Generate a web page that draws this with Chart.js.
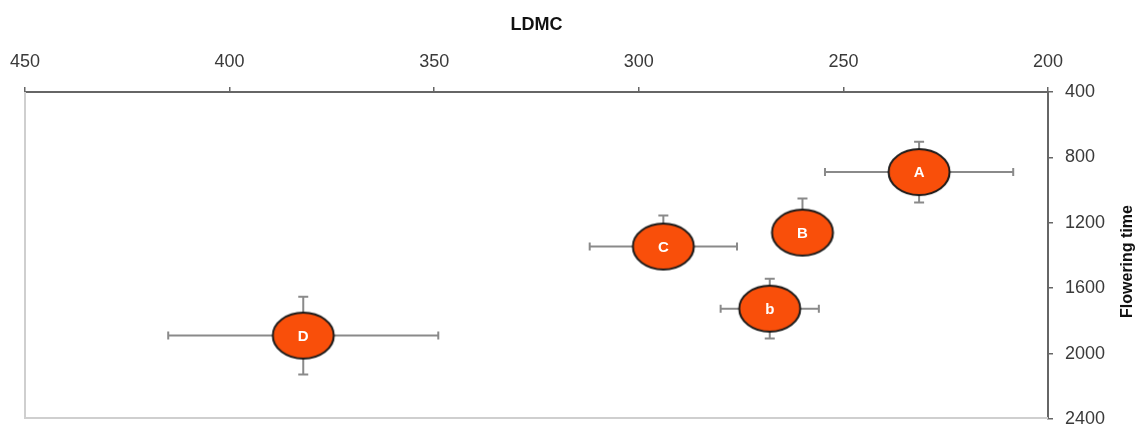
<!DOCTYPE html>
<html>
<head>
<meta charset="utf-8">
<script src="https://cdn.jsdelivr.net/npm/chart.js@4.4.1/dist/chart.umd.min.js"></script>
<style>
  html, body { margin: 0; padding: 0; background: #fff; }
</style>
</head>
<body>
<canvas id="Chart1" width="1138" height="425"></canvas>
<script>
// data
const groups = ['A', 'B', 'C', 'b', 'D'];
const ldmc = [231.5, 260, 294, 268, 382];
const ldmcErr = [23, 6, 18, 12, 33];
const flowering = [890, 1260, 1345, 1725, 1890];
const floweringErrUp = [186, 208, 190, 183, 238];
const floweringErrDown = [186, 100, 100, 183, 238];
const xTicks = [450, 400, 350, 300, 250, 200];
const yTicks = [400, 800, 1200, 1600, 2000, 2400];

const FONT = 'Liberation Sans, Arial, sans-serif';

// orange ellipse used as point style
var blob = document.createElement('canvas');
blob.width = 68;
blob.height = 52;
var bctx = blob.getContext('2d');
bctx.beginPath();
bctx.ellipse(34, 26, 30.5, 23, 0, 0, Math.PI * 2);
bctx.fillStyle = '#f94f0a';
bctx.fill();
bctx.lineWidth = 2;
bctx.strokeStyle = '#1a1a1a';
bctx.stroke();

const errorBars = {
  id: 'errorBars',
  beforeDatasetsDraw(chart) {
    const ctx = chart.ctx, xs = chart.scales.x, ys = chart.scales.y, a = chart.chartArea;
    ctx.save();
    // light left / bottom frame
    ctx.strokeStyle = '#cfcfcf';
    ctx.lineWidth = 2;
    ctx.beginPath();
    ctx.moveTo(a.left, a.top);
    ctx.lineTo(a.left, a.bottom - 1);
    ctx.lineTo(a.right, a.bottom - 1);
    ctx.stroke();

    ctx.strokeStyle = '#8a8a8a';
    ctx.lineWidth = 2;
    groups.forEach((g, i) => {
      const px = xs.getPixelForValue(ldmc[i]);
      const py = ys.getPixelForValue(flowering[i]);
      const x1 = xs.getPixelForValue(ldmc[i] + ldmcErr[i]);
      const x2 = xs.getPixelForValue(ldmc[i] - ldmcErr[i]);
      const y1 = ys.getPixelForValue(flowering[i] - floweringErrUp[i]);
      const y2 = ys.getPixelForValue(flowering[i] + floweringErrDown[i]);
      ctx.beginPath();
      ctx.moveTo(x1, py); ctx.lineTo(x2, py);
      ctx.moveTo(x1, py - 4); ctx.lineTo(x1, py + 4);
      ctx.moveTo(x2, py - 4); ctx.lineTo(x2, py + 4);
      ctx.moveTo(px, y1); ctx.lineTo(px, y2);
      ctx.moveTo(px - 5, y1); ctx.lineTo(px + 5, y1);
      ctx.moveTo(px - 5, y2); ctx.lineTo(px + 5, y2);
      ctx.stroke();
    });
    ctx.restore();
  },
  afterDatasetsDraw(chart) {
    const ctx = chart.ctx, xs = chart.scales.x, ys = chart.scales.y;
    ctx.save();
    ctx.fillStyle = '#ffffff';
    ctx.font = 'bold 15px ' + FONT;
    ctx.textAlign = 'center';
    ctx.textBaseline = 'middle';
    groups.forEach((g, i) => {
      ctx.fillText(g, xs.getPixelForValue(ldmc[i]), ys.getPixelForValue(flowering[i]) + 1);
    });
    ctx.restore();
  },
  afterDraw(chart) {
    // right-hand axis title, reading bottom to top
    const ctx = chart.ctx, a = chart.chartArea;
    ctx.save();
    ctx.translate(1128, (a.top + a.bottom) / 2 + 6);
    ctx.rotate(-Math.PI / 2);
    ctx.fillStyle = '#111';
    ctx.font = 'bold 16px ' + FONT;
    ctx.textAlign = 'center';
    ctx.textBaseline = 'middle';
    ctx.fillText('Flowering time', 0, 0);
    ctx.restore();
  }
};

var ctx1 = document.getElementById('Chart1').getContext('2d');
var myChart1 = new Chart(ctx1, {
  type: 'scatter',
  data: {
    datasets: [{
      label: 'groups',
      data: groups.map((g, i) => ({ x: ldmc[i], y: flowering[i] })),
      pointStyle: blob,
      pointRadius: 5,
      pointHoverRadius: 5
    }]
  },
  options: {
    responsive: false,
    animation: false,
    events: [],
    layout: { padding: { left: 25, right: 0, top: 0, bottom: 5 } },
    plugins: {
      legend: { display: false },
      tooltip: { enabled: false }
    },
    scales: {
      x: {
        type: 'linear',
        position: 'top',
        reverse: true,
        min: 200,
        max: 450,
        afterBuildTicks: s => { s.ticks = xTicks.map(v => ({ value: v })); },
        afterFit: s => { s.height = 92; s.paddingLeft = 0; s.paddingRight = 0; },
        grid: { drawOnChartArea: false, color: '#666', lineWidth: 1.5, tickLength: 5 },
        border: { color: '#666', width: 2 },
        ticks: {
          color: '#3a3a3a',
          font: { family: FONT, size: 18 },
          padding: 14,
          maxRotation: 0,
          callback: v => String(v)
        },
        title: {
          display: true,
          text: 'LDMC',
          color: '#111',
          font: { family: FONT, size: 18, weight: 'bold' },
          padding: { top: 14, bottom: 0 }
        }
      },
      y: {
        type: 'linear',
        position: 'right',
        reverse: true,
        min: 400,
        max: 2400,
        afterBuildTicks: s => { s.ticks = yTicks.map(v => ({ value: v })); },
        afterFit: s => { s.width = 90; s.paddingTop = 0; s.paddingBottom = 0; },
        grid: { drawOnChartArea: false, color: '#666', lineWidth: 1.5, tickLength: 5 },
        border: { color: '#666', width: 2 },
        ticks: {
          color: '#3a3a3a',
          font: { family: FONT, size: 18 },
          padding: 12,
          callback: v => String(v)
        }
      }
    }
  },
  plugins: [errorBars]
});
</script>
</body>
</html>
